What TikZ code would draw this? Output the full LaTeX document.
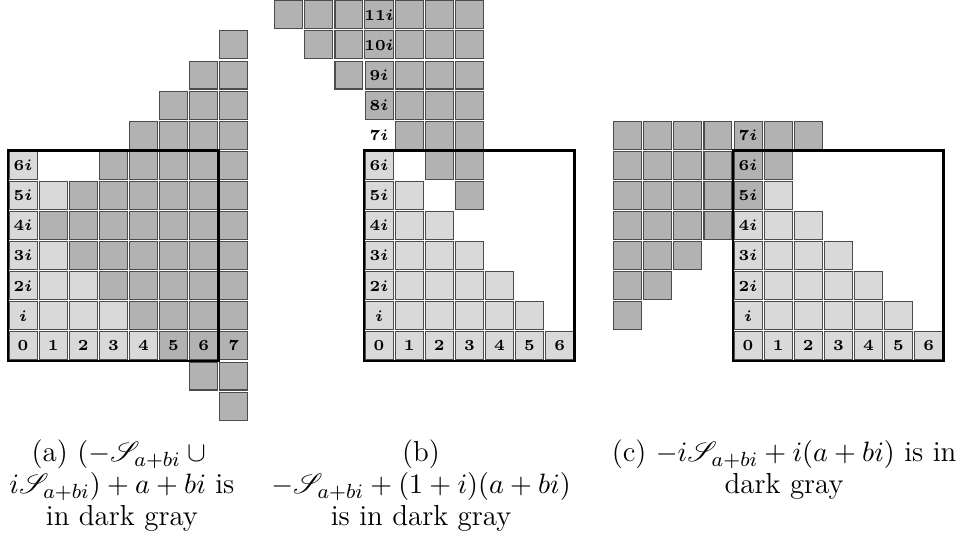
\documentclass[tikz,border=0pt]{standalone}
\usepackage{amsmath,amssymb}
\usepackage{mathrsfs}
\usepackage{tikz}
\usetikzlibrary{positioning}

\begin{document}
\begin{tikzpicture}[
    x=11.75pt, y=11.75pt,
    every node/.style={font=\fontsize{6.2}{7}\selectfont\bfseries\boldmath},
    cell/.style={draw=black!70, line width=0.4pt, minimum size=10.9pt, inner sep=0pt},
    lite/.style={cell, fill=gray!30},
    dark/.style={cell, fill=gray!60},
    frame/.style={line width=1pt},
    caption/.style={font=\fontsize{11.3}{12.4}\selectfont, align=center, anchor=north, inner sep=0pt}
]
\useasboundingbox (0,0) rectangle (31.96,18.206);

% (a) the set and its rotated copy, shifted by a+bi
\begin{scope}[shift={(0.266,6.213)}]
\foreach \c in {0,...,4} \node[lite] (a-\c-0) at (\c+.5,.5) {$\c$};
\foreach \c in {5,6,7} \node[dark] (a-\c-0) at (\c+.5,.5) {$\c$};
\foreach \r/\t in {1/i,2/2i,3/3i,4/4i,5/5i,6/6i}
    \node[lite] (a-0-\r) at (.5,\r+.5) {$\t$};
\foreach \c/\r in {1/1,2/1,3/1,1/2,2/2,1/3,1/5}
    \node[lite] (a-\c-\r) at (\c+.5,\r+.5) {};
\foreach \r/\p/\q in {1/4/7,2/3/7,3/2/7,4/1/7,5/2/7,6/3/7,7/4/7,8/5/7,9/6/7,10/7/7,-1/6/7,-2/7/7}
    \foreach \c in {\p,...,\q}
        \node[dark] (a-\c-\r) at (\c+.5,\r+.5) {};
\draw[frame] (0,0) rectangle (7,7);
\end{scope}
\node[caption] (capa) at (4.05,3.6)
    {(a) $(-\mathscr{S}_{a+bi}\cup{}$\\$i\mathscr{S}_{a+bi})+a+bi$ is\\in dark gray};

% (b)
\begin{scope}[shift={(12.093,6.213)}]
\foreach \c in {0,...,6} \node[lite] (b-\c-0) at (\c+.5,.5) {$\c$};
\foreach \r/\t in {1/i,2/2i,3/3i,4/4i,5/5i,6/6i}
    \node[lite] (b-0-\r) at (.5,\r+.5) {$\t$};
\node (b-0-7) at (.5,7.5) {$7i$};
\foreach \r/\t in {8/8i,9/9i,10/10i,11/11i}
    \node[dark] (b-0-\r) at (.5,\r+.5) {$\t$};
\foreach \r/\q in {1/5,2/4,3/3,4/2,5/1}
    \foreach \c in {1,...,\q}
        \node[lite] (b-\c-\r) at (\c+.5,\r+.5) {};
\foreach \c/\r in {3/5,2/6,3/6,-1/9,-2/10,-1/10,-3/11,-2/11,-1/11}
    \node[dark] (b-\c-\r) at (\c+.5,\r+.5) {};
\foreach \r in {7,...,11}
    \foreach \c in {1,2,3}
        \node[dark] (b-\c-\r) at (\c+.5,\r+.5) {};
\draw[frame] (0,0) rectangle (7,7);
\end{scope}
\node[caption] (capb) at (13.99,3.6)
    {(b)\\$-\mathscr{S}_{a+bi}+(1+i)(a+bi)$\\is in dark gray};

% (c)
\begin{scope}[shift={(24.352,6.213)}]
\foreach \c in {0,...,6} \node[lite] (c-\c-0) at (\c+.5,.5) {$\c$};
\foreach \r/\t in {1/i,2/2i,3/3i,4/4i}
    \node[lite] (c-0-\r) at (.5,\r+.5) {$\t$};
\foreach \r/\t in {5/5i,6/6i,7/7i}
    \node[dark] (c-0-\r) at (.5,\r+.5) {$\t$};
\foreach \r/\q in {1/5,2/4,3/3,4/2,5/1}
    \foreach \c in {1,...,\q}
        \node[lite] (c-\c-\r) at (\c+.5,\r+.5) {};
\foreach \c/\r in {1/6,1/7,2/7}
    \node[dark] (c-\c-\r) at (\c+.5,\r+.5) {};
\foreach \r/\p in {1/-4,2/-3,3/-2,4/-1,5/-1,6/-1,7/-1}
    \foreach \c in {-4,...,\p}
        \node[dark] (c-\c-\r) at (\c+.5,\r+.5) {};
\draw[frame] (0,0) rectangle (7,7);
\end{scope}
\node[caption] (capc) at (26.05,3.6)
    {(c) $-i\mathscr{S}_{a+bi}+i(a+bi)$ is in\\dark gray};
\end{tikzpicture}
\end{document}
